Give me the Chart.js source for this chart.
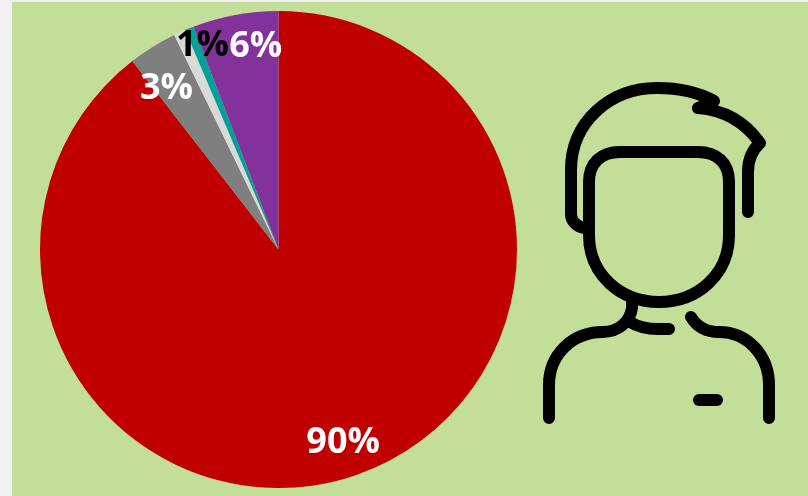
<!DOCTYPE html>
<html lang="en">
<head>
    <meta charset="UTF-8">
    <title>Pie chart with person icon</title>
    <script src="https://cdn.jsdelivr.net/npm/chart.js"></script>
    <style>
        html, body {
            margin: 0;
            width: 808px;
            height: 496px;
            overflow: hidden;
            background: #f2f2f2;
        }
        #panel {
            position: absolute;
            left: 12px;
            top: 2px;
            width: 796px;
            height: 494px;
            background: #c3de99;
        }
        #chartBox {
            position: absolute;
            left: 40px;
            top: 11px;
            width: 477px;
            height: 477px;
        }
        #person {
            position: absolute;
            left: 0;
            top: 0;
        }
    </style>
</head>
<body>
    <div id="panel"></div>
    <div id="chartBox"><canvas id="pie" width="477" height="477"></canvas></div>

    <!-- person icon next to the pie -->
    <svg id="person" width="808" height="496" fill="none" stroke="#000" stroke-width="12"
         stroke-linecap="round" stroke-linejoin="round">
        <path d="M584 228 C576 226 571 221 571 214 V170 C571 122 610 88 657 88 C680 88 698 92 714 101 L698 108 C725 110 745 122 760 143 C751 151 748 160 748 172 V212"/>
        <path d="M589 235 V182 C589 163 601 152 620 152 H698 C717 152 729 163 729 182 V235 C729 275 697 302 659 302 C621 302 589 275 589 235 Z"/>
        <path d="M632 303 V308 C630 322 618 332 603 332 C572 332 549 355 549 385 V418"/>
        <path d="M630 322 C638 327 648 329 658 329 H669"/>
        <path d="M691 317 C697 327 707 332 719 332 C747 332 769 355 769 385 V418"/>
        <path d="M699 400 H717"/>
    </svg>

    <script>
        const categories = ['A', 'B', 'C', 'D', 'E'];
        const sliceValues = [89.5, 3.3, 0.8, 0.6, 5.8];
        const sliceColors = ['#c00000', '#7f7f7f', '#d9d9d9', '#00a19a', '#84329b'];
        const sliceLabels = ['90%', '3%', '1%', '', '6%'];
        const labelColors = ['#ffffff', '#ffffff', '#000000', '#000000', '#ffffff'];

        // nudges from each slice's middle, the labels were placed by hand in the original
        const labelNudges = [[-1, 1], [-5, 11], [8, -19], [0, 0], [14, -3]];

        const sliceLabelPlugin = {
            id: 'sliceLabels',
            afterDatasetsDraw(chart) {
                const ctx = chart.ctx;
                const cx = chart.chartArea.left + chart.chartArea.width / 2;
                const cy = chart.chartArea.top + chart.chartArea.height / 2;
                ctx.save();
                ctx.font = 'bold 36px "Open Sans"';
                ctx.textAlign = 'center';
                ctx.textBaseline = 'middle';
                chart.getDatasetMeta(0).data.forEach((arc, i) => {
                    if (!sliceLabels[i]) return;
                    const mid = (arc.startAngle + arc.endAngle) / 2;
                    const r = arc.outerRadius * 0.85;
                    ctx.fillStyle = labelColors[i];
                    ctx.fillText(sliceLabels[i],
                        cx + Math.cos(mid) * r + labelNudges[i][0],
                        cy + Math.sin(mid) * r + labelNudges[i][1]);
                });
                ctx.restore();
            }
        };

        new Chart(document.getElementById('pie'), {
            type: 'pie',
            data: {
                labels: categories,
                datasets: [{
                    data: sliceValues,
                    backgroundColor: sliceColors,
                    borderWidth: 0
                }]
            },
            options: {
                responsive: false,
                animation: false,
                layout: { padding: 0 },
                plugins: {
                    legend: { display: false },
                    tooltip: { enabled: false }
                }
            },
            plugins: [sliceLabelPlugin]
        });
    </script>
</body>
</html>
